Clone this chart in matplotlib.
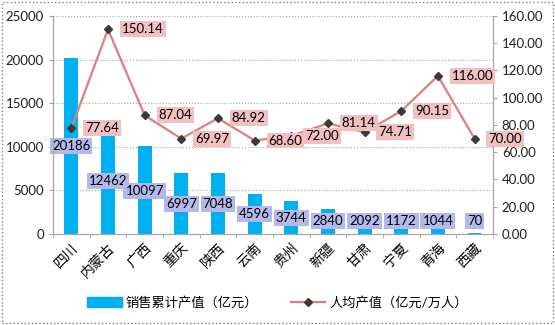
import matplotlib.pyplot as plt
import matplotlib.patches as mpatches
from matplotlib.lines import Line2D
import numpy as np

plt.rcParams['font.family'] = ['Lato', 'Noto Sans CJK SC', 'DejaVu Sans']

# data
provinces = ['四川', '内蒙古', '广西', '重庆', '陕西', '云南', '贵州', '新疆', '甘肃', '宁夏', '青海', '西藏']
sales = [20186, 12462, 10097, 6997, 7048, 4596, 3744, 2840, 2092, 1172, 1044, 70]
per_capita = [77.64, 150.14, 87.04, 69.97, 84.92, 68.60, 72.00, 81.14, 74.71, 90.15, 116.00, 70.00]

# where Excel dropped the bar value boxes (left-axis units)
bar_label_y = [10092, 6078, 4931, 3440, 3440, 2293, 1835, 1490, 1490, 1490, 1490, 1490]

bar_color = '#00B0F0'
line_color = '#E07E7E'
grid_color = '#A6A6A6'

fig = plt.figure(figsize=(5.55, 3.25), dpi=100)
ax = fig.add_axes([0.0955, 0.28, 0.7925, 0.671])
ax2 = ax.twinx()

x = np.arange(len(provinces))
ax.bar(x, sales, width=0.38, color=bar_color, zorder=2)
ax.set_xlim(-0.5, len(provinces) - 0.5)
ax.set_ylim(0, 25000)
ax.set_yticks(range(0, 25001, 5000))
ax.yaxis.grid(True, color=grid_color, lw=0.8, ls=':')
ax.set_axisbelow(True)

for xi, v, ly in zip(x, sales, bar_label_y):
    ax.text(xi, ly, str(v), ha='center', va='center', fontsize=9.5, zorder=5,
            bbox=dict(boxstyle='square,pad=0.15', fc='#B4B8EA', ec='none'))

ax2.plot(x, per_capita, color=line_color, lw=1.6, marker='D', ms=4.5,
         mfc='#3A3A3A', mec='#3A3A3A', zorder=3)
ax2.set_ylim(0, 160)
ax2.set_yticks(range(0, 161, 20))
ax2.set_yticklabels([f'{t:.2f}' for t in range(0, 161, 20)])
for xi, v in zip(x, per_capita):
    ax2.annotate(f'{v:.2f}', (xi, v), xytext=(10, 0), textcoords='offset points',
                 ha='left', va='center', fontsize=9.5, zorder=6,
                 bbox=dict(boxstyle='square,pad=0.15', fc='#F2C0C0', ec='none'))

# axes styling
for a in (ax, ax2):
    for s in a.spines.values():
        s.set_color(grid_color)
    a.spines['top'].set_visible(False)
    a.tick_params(axis='y', labelsize=9.5, length=3, width=0.8,
                  color=grid_color, labelcolor='#202020')

ax.set_xticks(x)
ax.set_xticklabels(provinces, rotation=45, ha='right', va='top',
                   rotation_mode='anchor', fontsize=10)
ax.tick_params(axis='x', length=0, pad=5)
ax.set_xticks(np.arange(-0.5, len(provinces), 1), minor=True)
ax.tick_params(axis='x', which='minor', length=3, color=grid_color)

# legend
handles = [mpatches.Patch(color=bar_color),
           Line2D([], [], color=line_color, lw=1.6, marker='D', ms=4.5,
                  mfc='#3A3A3A', mec='#3A3A3A')]
labels = ['销售累计产值（亿元）', '人均产值（亿元/万人）']
fig.legend(handles, labels, loc='center', bbox_to_anchor=(0.5, 0.07), ncol=2,
           frameon=False, fontsize=9.5, handlelength=2.6, columnspacing=2.5,
           handletextpad=0.3)

# chart-area border
fig.patches.append(mpatches.Rectangle((0.004, 0.006), 0.992, 0.988,
                                      transform=fig.transFigure, fill=False,
                                      ec='#808080', lw=1, ls=':'))

fig.savefig('out.png', dpi=100)
